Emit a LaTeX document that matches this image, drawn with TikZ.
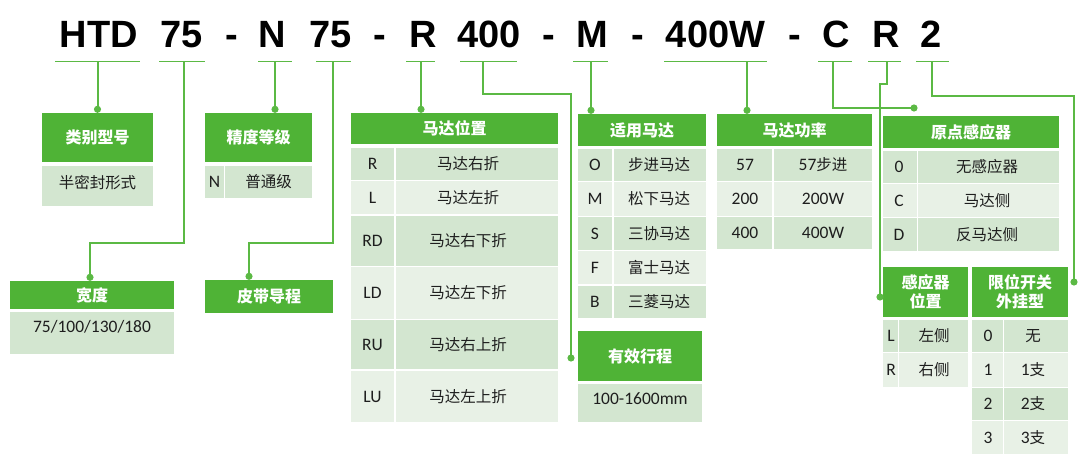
\documentclass[tikz,border=0pt]{standalone}
\usepackage{fontspec}
\setmainfont{Carlito}
\newfontfamily\cjkfont{Noto Sans CJK SC}
\newfontfamily\titlefont{Liberation Sans}
\usetikzlibrary{arrows.meta}
\definecolor{hGreen}{HTML}{4FB336}
\definecolor{lGreen}{HTML}{5BB944}
\definecolor{rowDark}{HTML}{D3E6D0}
\definecolor{rowLight}{HTML}{E8F1E6}
\definecolor{cellText}{HTML}{1E1E1E}

\tikzset{
  titlecode/.style={font=\titlefont\bfseries\fontsize{38}{40}\selectfont, anchor=base, inner sep=0pt},
  headbox/.style={fill=hGreen, text=white, font=\cjkfont\bfseries\fontsize{16}{19}\selectfont, inner sep=0pt, align=center},
  cellkey/.style={text=cellText, font=\fontsize{17.5}{19}\selectfont, inner sep=0pt},
  celldesc/.style={text=cellText, font=\cjkfont\fontsize{15.5}{18}\selectfont, inner sep=0pt},
  uline/.style={lGreen, line width=1pt},
  conn/.style={lGreen, line width=2pt, -{Circle[length=7pt]}},
  cellsplit/.style={white, line width=1.5pt},
}

\begin{document}
\begin{tikzpicture}[x=1pt, y=-1pt]
  \useasboundingbox (0,0) rectangle (1080,468);

  % model code
  \node[titlecode] (tType) at (98.7,48) {HTD};
  \node[titlecode] (tWidth) at (182,48) {75};
  \node[titlecode] (tDashA) at (231.6,48) {-};
  \node[titlecode] (tGrade) at (272,48) {N};
  \node[titlecode] (tPitch) at (331,48) {75};
  \node[titlecode] (tDashB) at (380,48) {-};
  \node[titlecode] (tPos) at (423,48) {R};
  \node[titlecode] (tStroke) at (489,48) {400};
  \node[titlecode] (tDashC) at (549,48) {-};
  \node[titlecode] (tMotor) at (592.5,48) {M};
  \node[titlecode] (tDashD) at (638,48) {-};
  \node[titlecode] (tPower) at (715.6,48) {400W};
  \node[titlecode] (tDashE) at (795,48) {-};
  \node[titlecode] (tOrigin) at (836,48) {C};
  \node[titlecode] (tSide) at (886,48) {R};
  \node[titlecode] (tLimit) at (931.5,48) {2};

  \foreach \xa/\xb in {55/139.5, 159/205, 258/292, 316/350.5, 406/434.6, 460/516.5,
      573/608, 664/766.6, 818/851.6, 868/900.5, 916/948.7}
    \draw[uline] (\xa,62) -- (\xb,62);

  \coordinate (uType) at (97.5,62);
  \coordinate (uWidth) at (183.5,62);
  \coordinate (uGrade) at (275,62);
  \coordinate (uPitch) at (333,62);
  \coordinate (uPos) at (421,62);
  \coordinate (uStroke) at (483,62);
  \coordinate (uMotor) at (591,62);
  \coordinate (uPower) at (747,62);
  \coordinate (uOrigin) at (833,62);
  \coordinate (uSide) at (887,62);
  \coordinate (uLimit) at (931.5,62);

  % type
  \node[headbox, minimum width=111pt, minimum height=49pt] (hType) at (97.5,137.5) {类别型号};
  \fill[rowDark] (42,166) rectangle (153,206);
  \node[celldesc] (dType) at (97.5,183) {半密封形式};

  % grade
  \node[headbox, minimum width=107pt, minimum height=49pt] (hGrade) at (258.5,137.5) {精度等级};
  \fill[rowDark] (205,166) rectangle (312,198);
  \draw[cellsplit] (224.5,166) -- (224.5,198);
  \node[cellkey] (kGrade) at (214.5,182) {N};
  \node[celldesc] (dGrade) at (268.5,182) {普通级};

  % width
  \node[headbox, minimum width=164pt, minimum height=28pt] (hWidth) at (92,295) {宽度};
  \fill[rowDark] (10,312) rectangle (174,354);
  \node[cellkey] (kWidth) at (92,327) {75/100/130/180};

  % belt pitch
  \node[headbox, minimum width=128pt, minimum height=33pt] (hPitch) at (269,296.5) {皮带导程};

  % motor position
  \node[headbox, minimum width=207pt, minimum height=31pt] (hPos) at (454.5,128.5) {马达位置};
  \foreach \ya/\yb/\k/\d/\c [count=\i] in {148/180/R/马达右折/rowDark, 181/214/L/马达左折/rowLight,
      216/266/RD/马达右下折/rowDark, 267/319/LD/马达左下折/rowLight,
      320/369/RU/马达右上折/rowDark, 371/422/LU/马达左上折/rowLight} {
    \fill[\c] (351,\ya) rectangle (558,\yb);
    \node[cellkey] (kPos\i) at (372.5,{(\ya+\yb)/2}) {\k};
    \node[celldesc] (dPos\i) at (468,{(\ya+\yb)/2}) {\d};
  }
  \draw[cellsplit] (395,148) -- (395,422);

  % motor
  \node[headbox, minimum width=128pt, minimum height=32pt] (hMotor) at (642,130) {适用马达};
  \foreach \ya/\yb/\k/\d/\c [count=\i] in {149/181/O/步进马达/rowDark, 182/216/M/松下马达/rowLight,
      217/250/S/三协马达/rowDark, 251/284/F/富士马达/rowLight, 286/318/B/三菱马达/rowDark} {
    \fill[\c] (578,\ya) rectangle (706,\yb);
    \node[cellkey] (kMotor\i) at (595,{(\ya+\yb)/2}) {\k};
    \node[celldesc] (dMotor\i) at (659,{(\ya+\yb)/2}) {\d};
  }
  \draw[cellsplit] (613,149) -- (613,318);

  % stroke
  \node[headbox, minimum width=124pt, minimum height=50pt] (hStroke) at (640,356) {有效行程};
  \fill[rowDark] (578,384) rectangle (702,422);
  \node[cellkey] (kStroke) at (640,399) {100-1600mm};
  \coordinate (dStroke) at (571,361.5);

  % power
  \node[headbox, minimum width=155pt, minimum height=32pt] (hPower) at (794.5,130) {马达功率};
  \foreach \ya/\yb/\k/\d/\c [count=\i] in {149/181/57/{\rmfamily\fontsize{17.5}{19}\selectfont 57\cjkfont\fontsize{15.5}{18}\selectfont 步进}/rowDark,
      182/216/200/{\rmfamily\fontsize{17.5}{19}\selectfont 200W}/rowLight, 217/249/400/{\rmfamily\fontsize{17.5}{19}\selectfont 400W}/rowDark} {
    \fill[\c] (717,\ya) rectangle (872,\yb);
    \node[cellkey] (kPower\i) at (745,{(\ya+\yb)/2}) {\k};
    \node[celldesc] (dPower\i) at (823,{(\ya+\yb)/2}) {\d};
  }
  \draw[cellsplit] (773,149) -- (773,249);

  % origin sensor
  \node[headbox, minimum width=176pt, minimum height=32pt] (hOrigin) at (971,132) {原点感应器};
  \foreach \ya/\yb/\k/\d/\c [count=\i] in {151/183/0/无感应器/rowDark, 184/217/C/马达侧/rowLight,
      218/251/D/反马达侧/rowDark} {
    \fill[\c] (883,\ya) rectangle (1059,\yb);
    \node[cellkey] (kOrigin\i) at (899,{(\ya+\yb)/2}) {\k};
    \node[celldesc] (dOrigin\i) at (987,{(\ya+\yb)/2}) {\d};
  }
  \draw[cellsplit] (917.5,151) -- (917.5,251);
  \coordinate (dOrigin) at (917.5,108);

  % sensor side
  \node[headbox, minimum width=85pt, minimum height=50pt] (hSide) at (925.5,292) {感应器\\位置};
  \foreach \ya/\yb/\k/\d/\c [count=\i] in {320/352/L/左侧/rowDark, 353/387/R/右侧/rowLight} {
    \fill[\c] (883,\ya) rectangle (968,\yb);
    \node[cellkey] (kSide\i) at (891,{(\ya+\yb)/2}) {\k};
    \node[celldesc] (dSide\i) at (934,{(\ya+\yb)/2}) {\d};
  }
  \draw[cellsplit] (898.5,320) -- (898.5,387);
  \coordinate (dSide) at (880,300.5);

  % limit switch
  \node[headbox, minimum width=96pt, minimum height=50pt] (hLimit) at (1020,292) {限位开关\\外挂型};
  \foreach \ya/\yb/\k/\d/\c [count=\i] in {320/352/0/无/rowDark,
      353/387/1/{\rmfamily\fontsize{17.5}{19}\selectfont 1\cjkfont\fontsize{15.5}{18}\selectfont 支}/rowLight,
      388/420/2/{\rmfamily\fontsize{17.5}{19}\selectfont 2\cjkfont\fontsize{15.5}{18}\selectfont 支}/rowDark,
      421/454/3/{\rmfamily\fontsize{17.5}{19}\selectfont 3\cjkfont\fontsize{15.5}{18}\selectfont 支}/rowLight} {
    \fill[\c] (972,\ya) rectangle (1068,\yb);
    \node[cellkey] (kLimit\i) at (988,{(\ya+\yb)/2}) {\k};
    \node[celldesc] (dLimit\i) at (1033,{(\ya+\yb)/2}) {\d};
  }
  \draw[cellsplit] (1003.5,320) -- (1003.5,454);
  \coordinate (dLimit) at (1074,285.5);

  % connectors
  \draw[conn] (uType) -- (uType |- hType.north);
  \draw[conn] (uWidth) -- ++(0,181) -| ([xshift=-2pt]hWidth.north);
  \draw[conn] (uGrade) -- (uGrade |- hGrade.north);
  \draw[conn] (uPitch) -- ++(0,181) -| ([xshift=-20pt]hPitch.north);
  \draw[conn] (uPos) -- (uPos |- hPos.north);
  \draw[conn] (uStroke) -- ++(0,32) -| (dStroke);
  \draw[conn] (uMotor) -- (uMotor |- hMotor.north);
  \draw[conn] (uPower) -- (uPower |- hPower.north);
  \draw[conn] (uOrigin) |- (dOrigin);
  \draw[conn] (uSide) -- ++(0,22) -- ++(-7,0) -- (dSide);
  \draw[conn] (uLimit) -- ++(0,34) -| (dLimit);
\end{tikzpicture}
\end{document}
